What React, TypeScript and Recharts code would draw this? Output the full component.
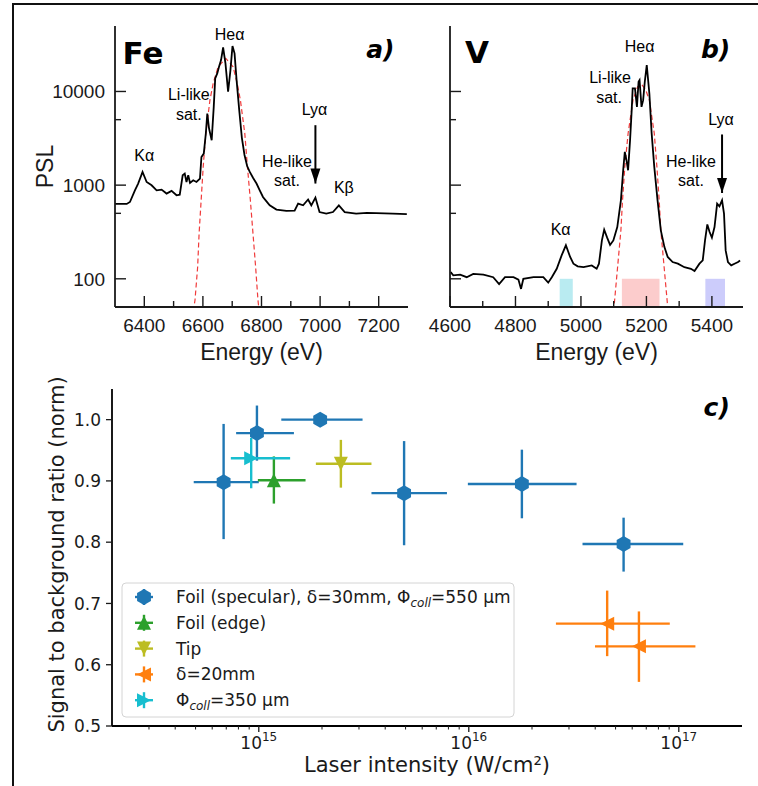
import React from 'react';
import {
  LineChart,
  Line,
  XAxis,
  YAxis,
  ReferenceArea,
  ReferenceLine,
  ReferenceDot,
  ScatterChart,
  Scatter,
  ErrorBar,
  Legend,
} from 'recharts';

const SANS = '"Liberation Sans", Arial, sans-serif';
const DEJAVU = '"DejaVu Sans", Verdana, sans-serif';
const INK = '#1a1a1a';

// panel a: Fe spectrum, [energy (eV), PSL]
const feSpectrum = [
  [6300, 630], [6340, 630], [6351, 661], [6368, 881], [6379, 1040], [6394, 1384], [6408, 1081],
  [6425, 996], [6442, 881], [6459, 895], [6476, 813], [6493, 867], [6510, 779], [6521, 790],
  [6531, 1275], [6538, 1330], [6544, 1080], [6550, 1275], [6556, 1055], [6567, 1127], [6578, 1081],
  [6590, 1175], [6595, 2000], [6603, 2173], [6610, 3556], [6615, 5821], [6621, 4024], [6630, 3018],
  [6637, 6855], [6642, 13770], [6649, 15590], [6655, 18370], [6662, 21640], [6669, 29560],
  [6677, 19950], [6686, 9930], [6694, 16910], [6701, 30550], [6708, 25520], [6715, 13220],
  [6724, 6321], [6733, 3200], [6742, 2100], [6751, 1600], [6760, 1384], [6771, 1200], [6783, 1040],
  [6794, 880], [6805, 747], [6817, 670], [6828, 609], [6851, 548], [6885, 530], [6913, 535],
  [6925, 635], [6942, 609], [6959, 702], [6970, 609], [6984, 736], [6998, 516], [7021, 497],
  [7044, 516], [7064, 609], [7084, 516], [7123, 497], [7160, 505], [7192, 503], [7248, 497],
  [7296, 490],
];
const feFit = [
  [6567, 45], [6573, 59], [6582, 133], [6587, 303], [6594, 689], [6601, 1566], [6610, 3556],
  [6624, 8080], [6635, 12190], [6652, 18370], [6678, 22540], [6703, 18370], [6717, 12190],
  [6728, 8080], [6743, 3556], [6752, 1566], [6762, 689], [6771, 303], [6780, 133], [6788, 59],
  [6792, 45],
];

// panel b: V spectrum, [energy (eV), PSL]
const vSpectrum = [
  [4602, 118], [4610, 109], [4631, 111], [4651, 104], [4671, 113], [4702, 111], [4732, 104],
  [4750, 88], [4768, 104], [4794, 104], [4809, 98], [4817, 78], [4824, 100], [4855, 104],
  [4885, 104], [4900, 91], [4911, 104], [4926, 128], [4941, 178], [4954, 228], [4967, 171],
  [4977, 145], [4990, 136], [5008, 133], [5033, 139], [5048, 128], [5055, 145], [5064, 257],
  [5071, 334], [5080, 275], [5089, 230], [5099, 257], [5111, 357], [5122, 689], [5129, 1442],
  [5134, 2265], [5139, 1845], [5144, 1442], [5150, 3018], [5155, 6321], [5158, 10770],
  [5165, 10770], [5171, 6855], [5176, 12700], [5179, 13220], [5185, 6855], [5190, 8080],
  [5195, 12700], [5201, 19140], [5209, 9520], [5216, 3556], [5224, 1566], [5234, 689],
  [5244, 329], [5255, 218], [5265, 171], [5280, 151], [5296, 145], [5316, 133], [5336, 128],
  [5347, 121], [5362, 145], [5372, 157], [5379, 257], [5386, 381], [5393, 316], [5400, 275],
  [5408, 357], [5416, 634], [5423, 594], [5431, 689], [5437, 496], [5442, 201], [5449, 151],
  [5459, 139], [5469, 145], [5480, 151], [5486, 157],
];
const vFit = [
  [5098, 45], [5101, 50], [5122, 329], [5127, 689], [5134, 1566], [5144, 3556], [5159, 8080],
  [5173, 11220], [5185, 11990], [5198, 10350], [5209, 8080], [5224, 3556], [5232, 1566],
  [5239, 689], [5244, 329], [5265, 50], [5268, 45],
];
// shaded energy windows under the V spectrum, [from, to] eV
const vBands = [[4935, 4975], [5125, 5240], [5380, 5440]];
const BAND_COLORS = ['#b9ebf1', '#fccccc', '#ccccfb'];

const feTicks = [6400, 6500, 6600, 6700, 6800, 6900, 7000, 7100, 7200];
const vTicks = [4600, 4700, 4800, 4900, 5000, 5100, 5200, 5300, 5400];
const pslTicks = [100, 500, 1000, 5000, 10000];
const pslLabelled = [100, 1000, 10000];

type Note = { text: string; e: number; psl: number; kind?: 'tag' | 'panel' };

const feNotes: Note[] = [
  { text: 'Fe', e: 6326, psl: 19450, kind: 'tag' },
  { text: 'a)', e: 7254, psl: 22750, kind: 'panel' },
  { text: 'Heα', e: 6691, psl: 35400 },
  { text: 'Li-like', e: 6552, psl: 8090 },
  { text: 'sat.', e: 6552, psl: 5020 },
  { text: 'Kα', e: 6400, psl: 1811 },
  { text: 'He-like', e: 6887, psl: 1563 },
  { text: 'sat.', e: 6887, psl: 972 },
  { text: 'Lyα', e: 6981, psl: 5580 },
  { text: 'Kβ', e: 7081, psl: 832 },
];
const vNotes: Note[] = [
  { text: 'V', e: 4646, psl: 19950, kind: 'tag' },
  { text: 'b)', e: 5456, psl: 22750, kind: 'panel' },
  { text: 'Heα', e: 5179, psl: 26550 },
  { text: 'Li-like', e: 5089, psl: 12190 },
  { text: 'sat.', e: 5086, psl: 7570 },
  { text: 'Lyα', e: 5428, psl: 4365 },
  { text: 'He-like', e: 5336, psl: 1563 },
  { text: 'sat.', e: 5336, psl: 972 },
  { text: 'Kα', e: 4938, psl: 291 },
];
const feArrow = { e: 6984, top: 4365, tip: 1040 };
const vArrow = { e: 5431, top: 3475, tip: 824 };

// panel c: [intensity, ratio, xLow, xHigh, yLow, yHigh]
const foilSpecular = [
  [6.8e14, 0.898, 4.9e14, 1.0e15, 0.805, 0.993],
  [9.8e14, 0.978, 7.8e14, 1.47e15, 0.933, 1.023],
  [1.96e15, 1.0, 1.28e15, 3.12e15, 1.0, 1.0],
  [4.92e15, 0.88, 3.44e15, 7.87e15, 0.795, 0.965],
  [1.79e16, 0.895, 9.9e15, 3.26e16, 0.839, 0.951],
  [5.46e16, 0.797, 3.48e16, 1.05e17, 0.752, 0.84],
];
const foilEdge = [[1.18e15, 0.901, 9.9e14, 1.67e15, 0.863, 0.94]];
const tipTarget = [[2.46e15, 0.928, 1.87e15, 3.44e15, 0.889, 0.967]];
const delta20 = [
  [4.56e16, 0.667, 2.6e16, 9.06e16, 0.614, 0.721],
  [6.46e16, 0.63, 3.99e16, 1.2e17, 0.572, 0.687],
];
const coll350 = [[9.2e14, 0.937, 7.36e14, 1.41e15, 0.888, 0.97]];

const intensityMajor = [1e15, 1e16, 1e17];
const intensityMinor = [
  3e14, 4e14, 5e14, 6e14, 7e14, 8e14, 9e14,
  2e15, 3e15, 4e15, 5e15, 6e15, 7e15, 8e15, 9e15,
  2e16, 3e16, 4e16, 5e16, 6e16, 7e16, 8e16, 9e16,
];
const ratioTicks = [0.5, 0.6, 0.7, 0.8, 0.9, 1.0];

const coll = (rest: string) => (
  <>
    Φ
    <tspan fontStyle="italic" fontSize={12} dy={4}>coll</tspan>
    <tspan dy={-4}>{rest}</tspan>
  </>
);

const seriesC = [
  { key: 'foil', rows: foilSpecular, color: '#1f77b4', marker: 'hex', label: <>Foil (specular), δ=30mm, {coll('=550 μm')}</> },
  { key: 'edge', rows: foilEdge, color: '#2ca02c', marker: 'up', label: <>Foil (edge)</> },
  { key: 'tip', rows: tipTarget, color: '#bcbd22', marker: 'down', label: <>Tip</> },
  { key: 'd20', rows: delta20, color: '#ff7f0e', marker: 'left', label: <>δ=20mm</> },
  { key: 'c350', rows: coll350, color: '#17becf', marker: 'right', label: coll('=350 μm') },
];

const toRows = (pts: number[][]) =>
  pts.map(([x, y, xl, xh, yl, yh]) => ({ x, y, ex: [x - xl, xh - x], ey: [y - yl, yh - y] }));

function markerPoints(kind: string, cx: number, cy: number) {
  const r = 7;
  if (kind === 'hex') {
    const R = 8;
    return [-90, -30, 30, 90, 150, 210]
      .map((a) => `${cx + R * Math.cos((a * Math.PI) / 180)},${cy + R * Math.sin((a * Math.PI) / 180)}`)
      .join(' ');
  }
  if (kind === 'up') return `${cx},${cy - r} ${cx - r},${cy + r} ${cx + r},${cy + r}`;
  if (kind === 'down') return `${cx},${cy + r} ${cx - r},${cy - r} ${cx + r},${cy - r}`;
  if (kind === 'left') return `${cx - r},${cy} ${cx + r},${cy - r} ${cx + r},${cy + r}`;
  return `${cx + r},${cy} ${cx - r},${cy - r} ${cx - r},${cy + r}`;
}

const SpecXTick = (props: any) => {
  const { x, y, payload } = props;
  const major = payload.value % 200 === 0;
  return (
    <g>
      <line x1={x} x2={x} y1={y} y2={y - (major ? 11 : 6)} stroke={INK} strokeWidth={1.4} />
      {major && (
        <text x={x} y={y + 25} textAnchor="middle" fontSize={19} fontFamily={SANS} fill={INK}>
          {payload.value}
        </text>
      )}
    </g>
  );
};

const specYTick = (showLabels: boolean) => (props: any) => {
  const { x, y, payload } = props;
  const major = pslLabelled.includes(payload.value);
  return (
    <g>
      <line x1={x} x2={x + (major ? 11 : 6)} y1={y} y2={y} stroke={INK} strokeWidth={1.4} />
      {showLabels && major && (
        <text x={x - 10} y={y + 7} textAnchor="end" fontSize={19} fontFamily={SANS} fill={INK}>
          {payload.value}
        </text>
      )}
    </g>
  );
};

const noteText = (n: Note) => (p: any) => {
  if (n.kind === 'tag')
    return (
      <text x={p.cx} y={p.cy} fontSize={31} fontWeight="bold" fontFamily={DEJAVU} fill="#000">
        {n.text}
      </text>
    );
  if (n.kind === 'panel')
    return (
      <text x={p.cx} y={p.cy} textAnchor="end" fontSize={25} fontWeight="bold" fontStyle="italic" fontFamily={DEJAVU} fill="#000">
        {n.text}
      </text>
    );
  return (
    <text x={p.cx} y={p.cy} textAnchor="middle" fontSize={16} fontFamily={SANS} fill="#000">
      {n.text}
    </text>
  );
};

const arrowHead = (p: any) => (
  <polygon points={`${p.cx},${p.cy} ${p.cx - 5},${p.cy - 15} ${p.cx + 5},${p.cy - 15}`} fill="#000" />
);

interface SpectrumProps {
  width: number;
  axisWidth: number;
  rightMargin: number;
  spectrum: number[][];
  fit: number[][];
  domain: [number, number];
  ticks: number[];
  showPsl: boolean;
  notes: Note[];
  arrow: { e: number; top: number; tip: number };
  bands?: number[][];
}

const SpectrumPanel: React.FC<SpectrumProps> = ({
  width, axisWidth, rightMargin, spectrum, fit, domain, ticks, showPsl, notes, arrow, bands,
}) => {
  const rows = spectrum.map(([e, psl]) => ({ e, psl }));
  const fitRows = fit.map(([e, psl]) => ({ e, psl }));
  const frame = { stroke: INK, strokeWidth: 1.8 };
  return (
    <LineChart width={width} height={368} margin={{ top: 26, right: rightMargin, bottom: 7, left: 0 }}>
      <XAxis
        type="number"
        dataKey="e"
        domain={domain}
        allowDataOverflow
        ticks={ticks}
        interval={0}
        height={54}
        tickLine={false}
        tickSize={0}
        tickMargin={0}
        tick={SpecXTick}
        axisLine={frame}
        label={{
          content: (p: any) => (
            <text x={p.viewBox.x + p.viewBox.width / 2} y={p.viewBox.y + 53} textAnchor="middle" fontSize={23} fontFamily={SANS} fill={INK}>
              Energy (eV)
            </text>
          ),
        }}
      />
      <XAxis xAxisId="top" orientation="top" type="number" height={0} tick={false} tickLine={false} axisLine={frame} />
      <YAxis
        type="number"
        scale="log"
        domain={[50, 50000]}
        allowDataOverflow
        ticks={pslTicks}
        interval={0}
        width={axisWidth}
        tickLine={false}
        tickSize={0}
        tickMargin={0}
        tick={specYTick(showPsl)}
        axisLine={frame}
        label={
          showPsl
            ? {
                content: (p: any) => {
                  const cy = p.viewBox.y + p.viewBox.height / 2;
                  return (
                    <text x={53} y={cy} transform={`rotate(-90, 53, ${cy})`} textAnchor="middle" fontSize={23} fontFamily={SANS} fill={INK}>
                      PSL
                    </text>
                  );
                },
              }
            : undefined
        }
      />
      <YAxis yAxisId="right" orientation="right" width={0} tick={false} tickLine={false} axisLine={frame} />
      {(bands || []).map(([from, to], i) => (
        <ReferenceArea key={`band-${i}`} x1={from} x2={to} y1={50} y2={100} fill={BAND_COLORS[i]} fillOpacity={1} stroke="none" />
      ))}
      <Line data={fitRows} dataKey="psl" type="linear" stroke="#f03a3a" strokeWidth={1.2} strokeDasharray="5 3" dot={false} isAnimationActive={false} />
      <Line data={rows} dataKey="psl" type="linear" stroke="#000" strokeWidth={1.8} dot={false} isAnimationActive={false} />
      {notes.map((n, i) => (
        <ReferenceDot key={`note-${i}`} x={n.e} y={n.psl} r={0} shape={noteText(n)} />
      ))}
      <ReferenceLine segment={[{ x: arrow.e, y: arrow.top }, { x: arrow.e, y: arrow.tip }]} stroke="#000" strokeWidth={2} />
      <ReferenceDot x={arrow.e} y={arrow.tip} r={0} shape={arrowHead} />
    </LineChart>
  );
};

const IntensityTick = (props: any) => {
  const { x, y, payload } = props;
  const exp = Math.log10(payload.value);
  const major = Math.abs(exp - Math.round(exp)) < 1e-9;
  return (
    <g>
      <line x1={x} x2={x} y1={y} y2={y + (major ? 6 : 3.5)} stroke={INK} strokeWidth={major ? 1.3 : 1} />
      {major && (
        <text x={x} y={y + 23} textAnchor="middle" fontSize={17} fontFamily={DEJAVU} fill={INK}>
          10
          <tspan dy={-8} fontSize={12}>{Math.round(exp)}</tspan>
        </text>
      )}
    </g>
  );
};

const RatioTick = (props: any) => {
  const { x, y, payload } = props;
  return (
    <g>
      <line x1={x} x2={x - 6} y1={y} y2={y} stroke={INK} strokeWidth={1.3} />
      <text x={x - 11} y={y + 6.3} textAnchor="end" fontSize={17} fontFamily={DEJAVU} fill={INK}>
        {payload.value.toFixed(1)}
      </text>
    </g>
  );
};

const renderLegend = () => (
  <svg width={394} height={136} style={{ display: 'block' }}>
    <rect x={1} y={1} width={392} height={134} rx={4} fill="#fff" fillOpacity={0.8} stroke="#d4d4d4" />
    {seriesC.map((s, i) => {
      const cy = 15 + i * 25.8;
      return (
        <g key={s.key}>
          <line x1={14} x2={32} y1={cy} y2={cy} stroke={s.color} strokeWidth={2.4} />
          <line x1={23} x2={23} y1={cy - 8} y2={cy + 8} stroke={s.color} strokeWidth={2.4} />
          <polygon points={markerPoints(s.marker, 23, cy)} fill={s.color} />
          <text x={55} y={cy + 6} fontSize={17} fontFamily={DEJAVU} fill={INK}>
            {s.label}
          </text>
        </g>
      );
    })}
  </svg>
);

const RatioPanel: React.FC = () => {
  const frame = { stroke: '#000', strokeWidth: 1.8 };
  return (
    <ScatterChart width={758} height={416} margin={{ top: 19, right: 16, bottom: 0, left: 0 }}>
      <XAxis
        type="number"
        dataKey="x"
        scale="log"
        domain={[2e14, 2e17]}
        allowDataOverflow
        ticks={[...intensityMajor, ...intensityMinor]}
        interval={0}
        height={60}
        tickLine={false}
        tickSize={0}
        tickMargin={0}
        tick={IntensityTick}
        axisLine={frame}
        label={{
          content: (p: any) => (
            <text x={p.viewBox.x + p.viewBox.width / 2} y={p.viewBox.y + 46} textAnchor="middle" fontSize={21} fontFamily={DEJAVU} fill={INK}>
              Laser intensity (W/cm²)
            </text>
          ),
        }}
      />
      <XAxis xAxisId="top" orientation="top" type="number" height={0} tick={false} tickLine={false} axisLine={frame} />
      <YAxis
        type="number"
        dataKey="y"
        domain={[0.5, 1.05]}
        allowDataOverflow
        ticks={ratioTicks}
        interval={0}
        width={112}
        tickLine={false}
        tickSize={0}
        tickMargin={0}
        tick={RatioTick}
        axisLine={frame}
        label={{
          content: (p: any) => {
            const cy = p.viewBox.y + p.viewBox.height / 2 - 3;
            return (
              <text x={64} y={cy} transform={`rotate(-90, 64, ${cy})`} textAnchor="middle" fontSize={21} fontFamily={DEJAVU} fill={INK}>
                Signal to background ratio (norm)
              </text>
            );
          },
        }}
      />
      <YAxis yAxisId="right" orientation="right" width={0} tick={false} tickLine={false} axisLine={frame} />
      {seriesC.map((s) => (
        <Scatter
          key={s.key}
          name={s.key}
          data={toRows(s.rows)}
          fill={s.color}
          isAnimationActive={false}
          shape={(p: any) => <polygon points={markerPoints(s.marker, p.cx, p.cy)} fill={s.color} />}
        >
          <ErrorBar dataKey="ex" direction="x" width={0} stroke={s.color} strokeWidth={2.4} />
          <ErrorBar dataKey="ey" direction="y" width={0} stroke={s.color} strokeWidth={2.4} />
        </Scatter>
      ))}
      <ReferenceDot
        x={1.75e17}
        y={1.006}
        r={0}
        shape={(p: any) => (
          <text x={p.cx} y={p.cy} textAnchor="end" fontSize={25} fontWeight="bold" fontStyle="italic" fontFamily={DEJAVU} fill="#000">
            c)
          </text>
        )}
      />
      <Legend
        content={renderLegend}
        layout="vertical"
        align="center"
        verticalAlign="middle"
        wrapperStyle={{ left: 121, top: 212, width: 394, height: 136 }}
      />
    </ScatterChart>
  );
};

export default function App() {
  return (
    <div style={{ position: 'absolute', left: 0, top: 0, width: 758, height: 786, background: '#fff', overflow: 'hidden' }}>
      <div style={{ position: 'absolute', left: 12, top: 3, width: 800, height: 900, border: '2px solid #111' }} />
      <div style={{ position: 'absolute', left: 0, top: 0 }}>
        <SpectrumPanel
          width={420}
          axisWidth={115}
          rightMargin={12}
          spectrum={feSpectrum}
          fit={feFit}
          domain={[6300, 7300]}
          ticks={feTicks}
          showPsl
          notes={feNotes}
          arrow={feArrow}
        />
      </div>
      <div style={{ position: 'absolute', left: 420, top: 0 }}>
        <SpectrumPanel
          width={338}
          axisWidth={30}
          rightMargin={15}
          spectrum={vSpectrum}
          fit={vFit}
          domain={[4600, 5495]}
          ticks={vTicks}
          showPsl={false}
          notes={vNotes}
          arrow={vArrow}
          bands={vBands}
        />
      </div>
      <div style={{ position: 'absolute', left: 0, top: 370 }}>
        <RatioPanel />
      </div>
    </div>
  );
}
